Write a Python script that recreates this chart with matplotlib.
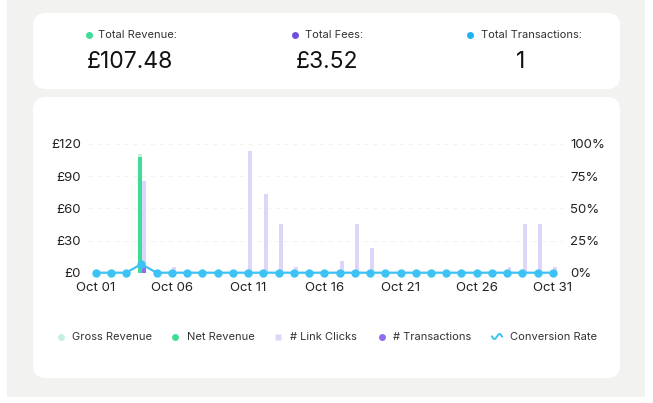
import matplotlib
matplotlib.use("Agg")
import matplotlib.pyplot as plt
from matplotlib.patches import FancyBboxPatch, Rectangle
from matplotlib.lines import Line2D
import numpy as np

plt.rcParams['font.family'] = ['Inter', 'DejaVu Sans']

# ---------------- data ----------------
days = list(range(1, 32))
tick_days = [1, 6, 11, 16, 21, 26, 31]
tick_labels = ["Oct 01", "Oct 06", "Oct 11", "Oct 16", "Oct 21", "Oct 26", "Oct 31"]

gross_revenue = [0, 0, 0, 111.0] + [0] * 27
net_revenue = [0, 0, 0, 107.48] + [0] * 27
link_clicks = [0, 0, 0, 15, 0, 1, 0, 0, 0, 0, 20, 13, 8, 1, 0, 0, 2, 8, 4,
               0, 0, 0, 0, 0, 0, 0, 0, 1, 8, 8, 1]
transactions = [0, 0, 0, 1] + [0] * 27
conversion_rate = [0, 0, 0, 6.67] + [0] * 27

rev_ticks = [0, 30, 60, 90, 120]
rev_tick_labels = ["£0", "£30", "£60", "£90", "£120"]
pct_ticks = [0, 25, 50, 75, 100]
pct_tick_labels = ["0%", "25%", "50%", "75%", "100%"]

summary_labels = ["Total Revenue:", "Total Fees:", "Total Transactions:"]
summary_values = ["£107.48", "£3.52", "1"]
summary_colors = ["#3ddc97", "#6c4fe0", "#1fb1f2"]

legend_labels = ["Gross Revenue", "Net Revenue", "# Link Clicks", "# Transactions", "Conversion Rate"]

# ---------------- colours ----------------
c_gross = "#c4f2dc"
c_net = "#3ddc97"
c_clicks = "#ddd6f8"
c_trans = "#8f6cf2"
c_rate = "#3cc2f4"
c_text = "#222222"

W, H = 653, 403
fig = plt.figure(figsize=(W / 100, H / 100), dpi=100)
fig.patch.set_facecolor("white")


def px_box(x0, y0, x1, y1, color, r=0, z=-10):
    fx0, fx1 = x0 / W, x1 / W
    fy0, fy1 = 1 - y1 / H, 1 - y0 / H
    if r:
        p = FancyBboxPatch((fx0, fy0), fx1 - fx0, fy1 - fy0,
                           boxstyle=f"round,pad=0,rounding_size={r / H}",
                           transform=fig.transFigure, facecolor=color,
                           edgecolor="none", zorder=z, mutation_aspect=W / H)
    else:
        p = Rectangle((fx0, fy0), fx1 - fx0, fy1 - fy0, transform=fig.transFigure,
                      facecolor=color, edgecolor="none", zorder=z)
    fig.patches.append(p)


px_box(7, 0, 645, 397, "#f2f2f0", z=-20)
px_box(33, 13, 620, 89, "white", r=8)
px_box(33, 97, 620, 378, "white", r=8)

# ---------------- summary card ----------------
dot_x = [89, 295, 470]
lab_x = [98, 305, 481]
val_x = [130, 327, 521]
for dx, lx, vx, lab, val, col in zip(dot_x, lab_x, val_x, summary_labels, summary_values, summary_colors):
    fig.lines.append(Line2D([dx / W], [1 - 34.5 / H], marker="o", markersize=5,
                            color=col, markeredgecolor="none", transform=fig.transFigure))
    fig.text(lx / W, 1 - 34.5 / H, lab, fontsize=8, color="#333333", va="center", ha="left")
    fig.text(vx / W, 1 - 62.5 / H, val, fontsize=16.5, color="#111111", va="center", ha="center")

# ---------------- chart ----------------
ax_l, ax_r = 88, 563
ax_top, ax_bot = 144, 272.7
ax = fig.add_axes([ax_l / W, 1 - ax_bot / H, (ax_r - ax_l) / W, (ax_bot - ax_top) / H])
ax.set_facecolor("none")
ax.set_zorder(1)

x = np.array(days, dtype=float)
bw = 0.26
ax.bar(x - 0.12, gross_revenue, width=bw, color=c_gross, zorder=2)
ax.bar(x - 0.12, net_revenue, width=bw, color=c_net, zorder=3)
ax.set_ylim(0, 120)
ax.set_xlim(0.5, 31.66)
ax.set_yticks(rev_ticks)
ax.set_yticklabels(rev_tick_labels)
ax.set_xticks(tick_days)
ax.set_xticklabels(tick_labels)
for yv in rev_ticks[1:]:
    ax.axhline(yv, color="#f3f3f3", lw=0.8, linestyle=(0, (4, 4)), zorder=0)
ax.tick_params(axis="both", length=0, labelsize=9.5, labelcolor=c_text)
ax.tick_params(axis="y", pad=5)
ax.tick_params(axis="x", pad=6.5)
for s in ax.spines.values():
    s.set_visible(False)

ax_c = ax.twinx()
ax_c.set_zorder(2)
ax_c.set_facecolor("none")
ax_c.bar(x + 0.15, link_clicks, width=bw, color=c_clicks, zorder=2)
ax_c.bar(x + 0.15, transactions, width=bw, color=c_trans, zorder=3)
ax_c.set_ylim(0, 21.15)
ax_c.set_yticks([])
for s in ax_c.spines.values():
    s.set_visible(False)

ax_p = ax.twinx()
ax_p.set_zorder(3)
ax_p.set_facecolor("none")
ax_p.plot(x, conversion_rate, color=c_rate, lw=1.6, marker="o", markersize=5,
          markeredgecolor=c_rate, clip_on=False, zorder=5)
ax_p.set_ylim(0, 100)
ax_p.set_yticks(pct_ticks)
ax_p.set_yticklabels(pct_tick_labels)
ax_p.tick_params(axis="y", length=0, labelsize=9.5, labelcolor=c_text, pad=5)
for s in ax_p.spines.values():
    s.set_visible(False)

# ---------------- legend ----------------
leg_marker_x = [61, 175, 278, 382, 497]
leg_text_x = [72, 187, 290, 393, 510]
leg_y = 1 - 336.5 / H
leg_colors = [c_gross, c_net, c_clicks, c_trans, c_rate]
leg_markers = ["o", "o", "s", "o", None]
for mx, tx, lab, col, mk in zip(leg_marker_x, leg_text_x, legend_labels, leg_colors, leg_markers):
    if mk is not None:
        fig.lines.append(Line2D([mx / W], [leg_y], marker=mk, markersize=5, color=col,
                                markeredgecolor="none", transform=fig.transFigure))
    else:
        t = np.linspace(0, 1, 30)
        xs = (mx - 5 + 10 * t) / W
        ys = leg_y + (-2.5 * np.sin(2 * np.pi * t)) / H
        fig.lines.append(Line2D(xs, ys, color=col, lw=1.4, transform=fig.transFigure))
    fig.text(tx / W, leg_y, lab, fontsize=8, color="#333333", va="center", ha="left")

fig.savefig("out.png", dpi=100, facecolor=fig.get_facecolor())
